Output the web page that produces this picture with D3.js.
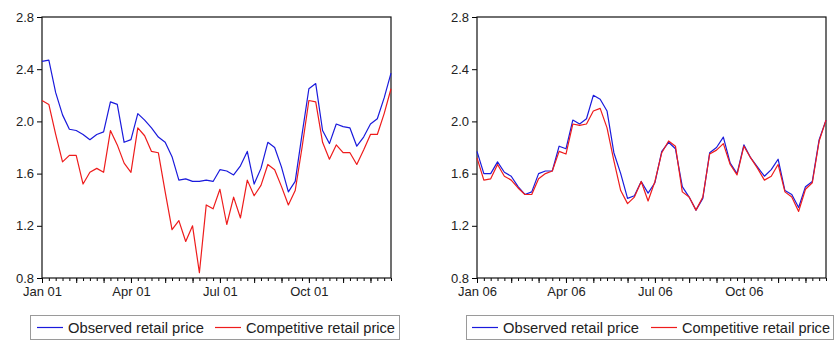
<!DOCTYPE html>
<html>
<head>
<meta charset="utf-8">
<script src="https://cdn.jsdelivr.net/npm/d3@7"></script>
<style>
  body { margin: 0; background: #fff; }
  text { font-family: 'Liberation Sans', Arial, sans-serif; fill: #1a1a1a; }
</style>
</head>
<body>
<div class="chart"></div>
<script>
// weekly observations, 52 per year
var observed2001 = [2.46, 2.47, 2.22, 2.05, 1.94, 1.93, 1.90, 1.86, 1.90, 1.92,
    2.15, 2.13, 1.84, 1.86, 2.06, 2.01, 1.95, 1.88, 1.84, 1.73,
    1.55, 1.56, 1.54, 1.54, 1.55, 1.54, 1.63, 1.62, 1.59, 1.66,
    1.77, 1.52, 1.64, 1.84, 1.80, 1.65, 1.46, 1.54, 1.90, 2.25,
    2.29, 1.93, 1.83, 1.98, 1.96, 1.95, 1.81, 1.88, 1.98, 2.02,
    2.18, 2.37];
var competitive2001 = [2.16, 2.13, 1.90, 1.69, 1.74, 1.74, 1.52, 1.61, 1.64, 1.61,
    1.93, 1.82, 1.68, 1.61, 1.95, 1.89, 1.77, 1.76, 1.46, 1.17,
    1.24, 1.08, 1.20, 0.84, 1.36, 1.33, 1.48, 1.21, 1.42, 1.26,
    1.55, 1.43, 1.51, 1.67, 1.63, 1.50, 1.36, 1.47, 1.80, 2.16,
    2.15, 1.84, 1.71, 1.82, 1.76, 1.76, 1.67, 1.78, 1.90, 1.90,
    2.06, 2.25];
var observed2006 = [1.77, 1.60, 1.60, 1.69, 1.61, 1.58, 1.50, 1.44, 1.46, 1.60,
    1.62, 1.62, 1.81, 1.79, 2.01, 1.98, 2.02, 2.20, 2.17, 2.08,
    1.76, 1.60, 1.41, 1.43, 1.54, 1.45, 1.53, 1.77, 1.84, 1.79,
    1.50, 1.42, 1.32, 1.41, 1.76, 1.80, 1.88, 1.68, 1.60, 1.82,
    1.72, 1.65, 1.58, 1.63, 1.71, 1.47, 1.44, 1.34, 1.50, 1.54,
    1.86, 2.01];
var competitive2006 = [1.72, 1.55, 1.56, 1.67, 1.58, 1.55, 1.49, 1.44, 1.44, 1.56,
    1.60, 1.62, 1.77, 1.75, 1.98, 1.97, 1.98, 2.08, 2.10, 1.95,
    1.70, 1.47, 1.37, 1.42, 1.54, 1.39, 1.54, 1.76, 1.85, 1.81,
    1.46, 1.42, 1.32, 1.42, 1.75, 1.78, 1.83, 1.67, 1.59, 1.81,
    1.72, 1.64, 1.55, 1.58, 1.67, 1.46, 1.42, 1.31, 1.48, 1.53,
    1.85, 2.01];
var yTicks = [0.8, 1.2, 1.6, 2.0, 2.4, 2.8];
var seriesNames = ['Observed retail price', 'Competitive retail price'];
var seriesColors = ['#1a1adc', '#ee1c1c'];

var W = 835, H = 342;
var svg = d3.select('.chart')
    .append('svg')
    .attr('width', W)
    .attr('height', H);

var y = d3.scaleLinear()
    .domain([0.8, 2.8])
    .range([278, 17]);

function drawPanel(left, right, firstMonday, obs, comp, legendBox) {
    var dates = obs.map((d, i) => d3.timeWeek.offset(firstMonday, i));
    var x = d3.scaleTime()
        .domain([dates[0], dates[dates.length - 1]])
        .range([left, right]);

    var g = svg.append('g');

    // y axis
    var yAxis = d3.axisLeft(y)
        .tickValues(yTicks)
        .tickFormat(d3.format('.1f'))
        .tickSize(5)
        .tickPadding(3);
    g.append('g')
        .attr('transform', `translate(${left}, 0)`)
        .call(yAxis)
        .call(s => s.select('.domain').remove())
        .call(s => s.selectAll('text').style('font-size', '13px').style('fill', '#222'));

    // weekly minor ticks
    g.append('g')
        .attr('transform', `translate(0, ${y(0.8)})`)
        .call(d3.axisBottom(x).tickValues(dates).tickSize(3).tickFormat(''))
        .call(s => s.select('.domain').remove());

    // month ticks with quarter labels
    var monthTicks = dates.filter((d, i) => i === 0 || d.getMonth() !== dates[i - 1].getMonth());
    var fmt = d3.timeFormat('%b %y');
    g.append('g')
        .attr('transform', `translate(0, ${y(0.8)})`)
        .call(d3.axisBottom(x)
            .tickValues(monthTicks)
            .tickSize(5)
            .tickPadding(4)
            .tickFormat(d => d.getMonth() % 3 === 0 ? fmt(d) : ''))
        .call(s => s.select('.domain').remove())
        .call(s => s.selectAll('text').style('font-size', '13px').style('fill', '#222'));

    // frame
    g.append('rect')
        .attr('x', left)
        .attr('y', y(2.8))
        .attr('width', right - left)
        .attr('height', y(0.8) - y(2.8))
        .attr('fill', 'none')
        .attr('stroke', '#111')
        .attr('stroke-width', 1.2);

    var line = d3.line()
        .x((d, i) => x(dates[i]))
        .y(d => y(d));

    [obs, comp].forEach((s, k) => {
        g.append('path')
            .datum(s)
            .attr('d', line)
            .attr('fill', 'none')
            .attr('stroke', seriesColors[k])
            .attr('stroke-width', 1.2)
            .attr('stroke-linejoin', 'round');
    });

    // legend
    var lg = g.append('g');
    lg.append('rect')
        .attr('x', legendBox.x)
        .attr('y', 315.5)
        .attr('width', legendBox.w)
        .attr('height', 24)
        .attr('fill', '#fff')
        .attr('stroke', '#9a9a9a');
    legendBox.items.forEach((it, k) => {
        lg.append('line')
            .attr('x1', it.x)
            .attr('x2', it.x + 26)
            .attr('y1', 327.5)
            .attr('y2', 327.5)
            .attr('stroke', seriesColors[k])
            .attr('stroke-width', 1.2);
        lg.append('text')
            .attr('x', it.x + 31)
            .attr('y', 332.5)
            .attr('textLength', it.tw)
            .attr('lengthAdjust', 'spacingAndGlyphs')
            .style('font-size', '14.5px')
            .style('fill', '#222')
            .text(seriesNames[k]);
    });
}

drawPanel(42, 391, new Date(2001, 0, 1), observed2001, competitive2001,
    { x: 30.5, w: 369, items: [{ x: 37, tw: 136 }, { x: 215, tw: 149 }] });
drawPanel(477, 826, new Date(2006, 0, 2), observed2006, competitive2006,
    { x: 466.5, w: 367, items: [{ x: 472, tw: 136 }, { x: 651, tw: 148 }] });
</script>
</body>
</html>
